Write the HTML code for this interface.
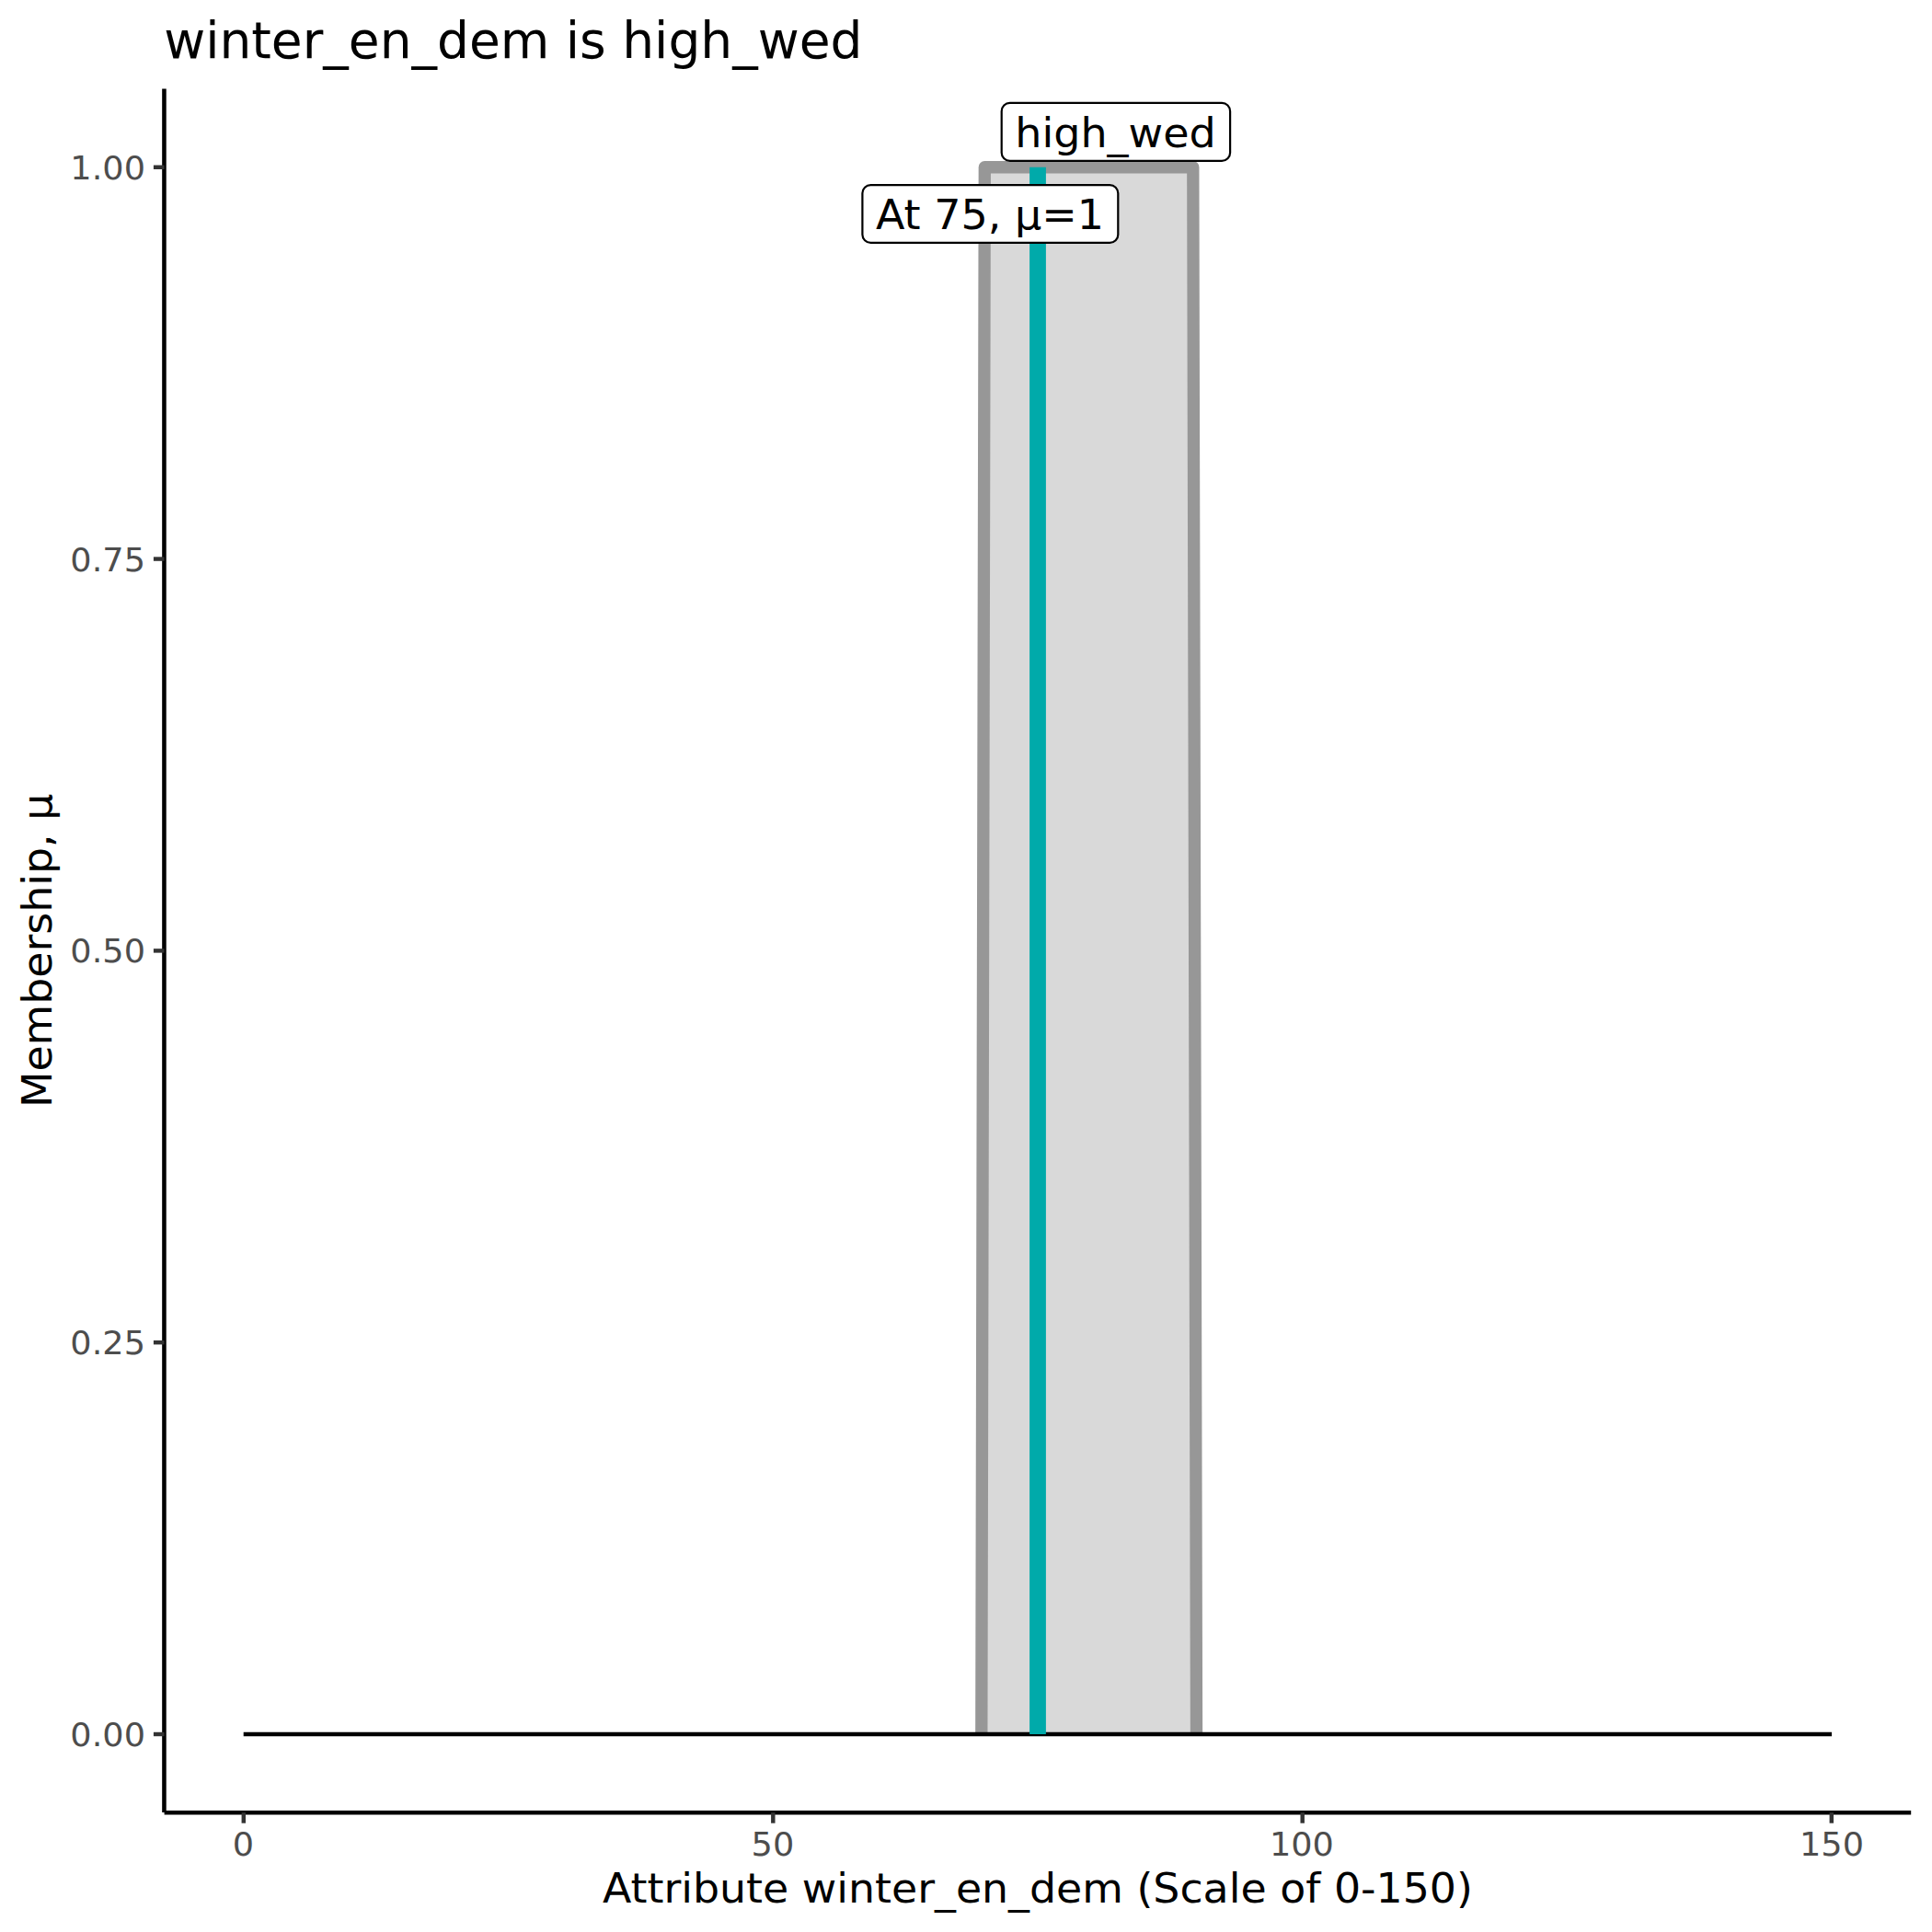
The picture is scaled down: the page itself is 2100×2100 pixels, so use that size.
<!DOCTYPE html>
<html><head><meta charset="utf-8"><title>winter_en_dem is high_wed</title>
<style>
html,body{margin:0;padding:0;background:#fff;}
svg{display:block;}
text{font-family:"DejaVu Sans","Liberation Sans",sans-serif;}
.at{font-size:36.67px;fill:#4d4d4d;}
.ti{font-size:45.83px;fill:#000;}
.lb{font-size:46px;fill:#000;}
</style></head><body>
<svg width="2100" height="2100" viewBox="0 0 2100 2100">
<rect width="2100" height="2100" fill="#fff"/>
<!-- title -->
<text x="178.2" y="63.1" style="font-size:55px;fill:#000">winter_en_dem is high_wed</text>
<!-- membership polygon -->
<polygon points="1066.8,1885 1070.3,181.75 1296.8,181.75 1300.5,1885" fill="#d9d9d9"/>
<polyline points="1066.8,1885 1070.3,181.75 1296.8,181.75 1300.5,1885" fill="none" stroke="#979797" stroke-width="13.3" stroke-linejoin="round" stroke-linecap="butt"/>
<!-- zero line -->
<line x1="264.7" y1="1885" x2="1991" y2="1885" stroke="#000" stroke-width="4.5"/>
<!-- teal marker -->
<line x1="1128" y1="181.75" x2="1128" y2="1885" stroke="#00aaaa" stroke-width="17.8"/>
<!-- labels -->
<rect x="1088.7" y="111.9" width="248.4" height="63" rx="9" ry="9" fill="#fff" stroke="#000" stroke-width="2.2"/>
<text class="lb" transform="translate(1212.5,159.8) scale(1,0.985)" text-anchor="middle">high_wed</text>
<rect x="937.4" y="201.05" width="277.9" height="62.85" rx="9" ry="9" fill="#fff" stroke="#000" stroke-width="2.2"/>
<text class="lb" transform="translate(1075.95,248.7) scale(1,0.985)" text-anchor="middle">At 75, μ=1</text>
<!-- axes -->
<line x1="178.45" y1="96.5" x2="178.45" y2="1970" stroke="#000" stroke-width="4.55"/>
<line x1="178.6" y1="1970.3" x2="2077.2" y2="1970.3" stroke="#000" stroke-width="4.55"/>
<!-- y ticks -->
<g stroke="#333333" stroke-width="4.45">
<line x1="166.9" y1="181.75" x2="178.6" y2="181.75"/>
<line x1="166.9" y1="607.56" x2="178.6" y2="607.56"/>
<line x1="166.9" y1="1033.4" x2="178.6" y2="1033.4"/>
<line x1="166.9" y1="1459.2" x2="178.6" y2="1459.2"/>
<line x1="166.9" y1="1885" x2="178.6" y2="1885"/>
<line x1="264.8" y1="1970.2" x2="264.8" y2="1981.7"/>
<line x1="840.3" y1="1970.2" x2="840.3" y2="1981.7"/>
<line x1="1415.7" y1="1970.2" x2="1415.7" y2="1981.7"/>
<line x1="1990.8" y1="1970.2" x2="1990.8" y2="1981.7"/>
</g>
<g class="at" text-anchor="end">
<text transform="translate(158,194.85) scale(1,0.96)">1.00</text>
<text transform="translate(158,620.85) scale(1,0.96)">0.75</text>
<text transform="translate(158,1045.85) scale(1,0.96)">0.50</text>
<text transform="translate(158,1471.85) scale(1,0.96)">0.25</text>
<text transform="translate(158,1897.85) scale(1,0.96)">0.00</text>
</g>
<g class="at" text-anchor="middle">
<text transform="translate(264.5,2016.85) scale(1,0.96)">0</text>
<text transform="translate(839.9,2016.85) scale(1,0.96)">50</text>
<text transform="translate(1414.9,2016.85) scale(1,0.96)">100</text>
<text transform="translate(1991.0,2016.85) scale(1,0.96)">150</text>
</g>
<text class="ti" transform="translate(1127.9,2068.2) scale(1,0.985)" text-anchor="middle">Attribute winter_en_dem (Scale of 0-150)</text>
<text class="ti" transform="translate(55.5,1033.4) rotate(-90) scale(1,0.985)" text-anchor="middle">Membership, μ</text>
</svg>
</body></html>
